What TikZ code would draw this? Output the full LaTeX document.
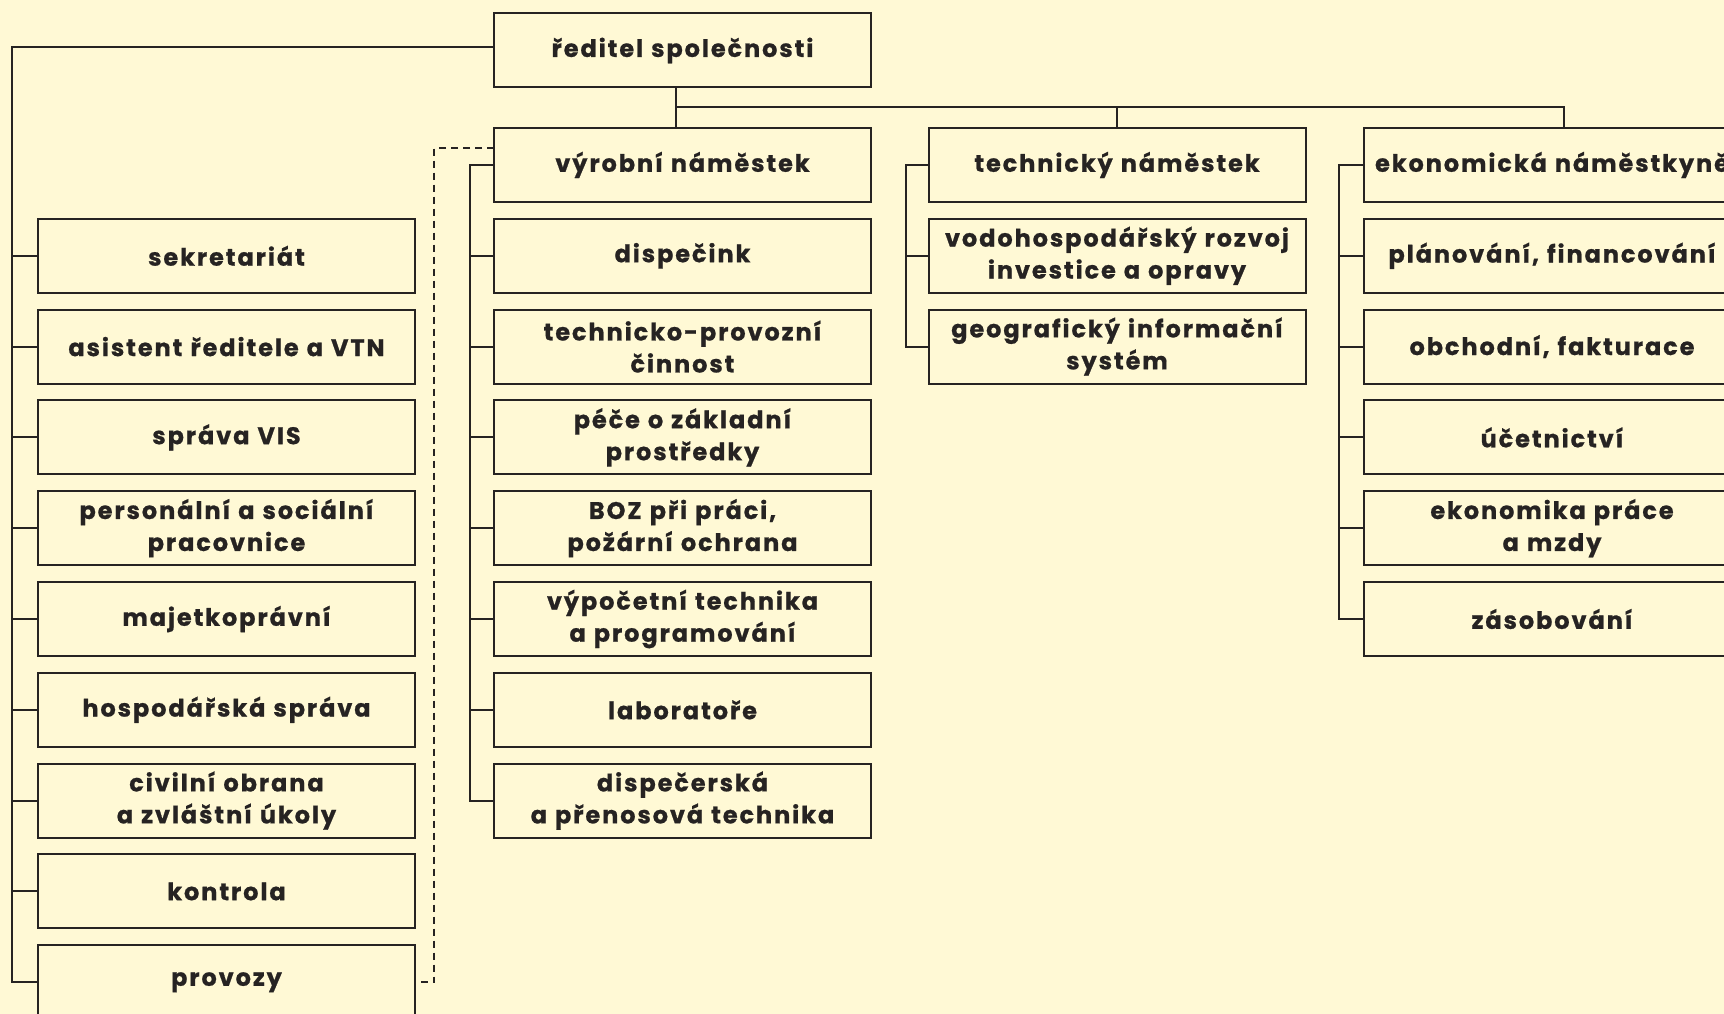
\documentclass[tikz,border=0pt]{standalone}
\usepackage{fontspec}
\setmainfont{Poppins}[LetterSpace=8, BoldFeatures={FakeBold=0.8}]
\usetikzlibrary{positioning}
\definecolor{paper}{HTML}{FFF9D5}
\definecolor{ink}{HTML}{262322}

\begin{document}
\begin{tikzpicture}[
    x=1pt, y=-1pt,
    unit/.style={
      draw=ink,
      fill=paper,
      line width=2pt,
      outer sep=0pt,
      inner sep=0pt,
      minimum width=377pt,
      minimum height=74pt,
      text width=370pt,
      align=center,
      text=ink,
      font=\fontsize{24}{32}\selectfont\bfseries
      },
    link/.style={
      draw=ink,
      line width=2pt
      },
    aide/.style={
      link,
      dash pattern=on 7pt off 5pt
      }
    ]
    \fill[paper] (0,0) rectangle (1724,1014);
    \useasboundingbox (0,0) rectangle (1724,1014);
    % director and deputies
    \node[unit] (boss) at (682.5,50.5) {ředitel společnosti};
    \node[unit] (vyr) at (682.5,165) {výrobní náměstek};
    \node[unit] (tech) at (1117,165) {technický náměstek};
    \node[unit] (eko) at (1552,165) {ekonomická náměstkyně};
    % staff of the director
    \foreach \txt [count=\i] in {sekretariát, asistent ředitele a VTN, správa VIS,
      personální a sociální\\pracovnice, majetkoprávní, hospodářská správa,
      civilní obrana\\a zvláštní úkoly, kontrola, provozy}
      \node[unit] (s\i) at (226.5,{165+90.8*\i}) {\txt};
    % production
    \foreach \txt [count=\i] in {dispečink, technicko-provozní\\činnost,
      péče o základní\\prostředky, {BOZ při práci,\\požární ochrana},
      výpočetní technika\\a programování, laboratoře,
      dispečerská\\a přenosová technika}
      \node[unit] (p\i) at (682.5,{165+90.8*\i}) {\txt};
    % technical
    \foreach \txt [count=\i] in {vodohospodářský rozvoj\\investice a opravy,
      geografický informační\\systém}
      \node[unit] (t\i) at (1117,{165+90.8*\i}) {\txt};
    % economic
    \foreach \txt [count=\i] in {{plánování, financování}, {obchodní, fakturace},
      účetnictví, ekonomika práce\\a mzdy, zásobování}
      \node[unit] (e\i) at (1552,{165+90.8*\i}) {\txt};
    % spines
    \coordinate (lbus) at (12,0);
    \coordinate (mbus) at (469.5,0);
    \coordinate (tbus) at (906,0);
    \coordinate (ebus) at (1339,0);
    \coordinate (hbus) at (0,106.7);
    \coordinate (dbus) at (434.3,148.4);
    \draw[link] ([yshift=3pt]boss.west) -- ([yshift=3pt]boss.west -| lbus) |- (s9.west);
    \foreach \i in {1,...,8}
      \draw[link] (s\i.west) -- (s\i.west -| lbus);
    \draw[link] ([xshift=-7pt]boss.south) -- ([xshift=-7pt]vyr.north);
    \draw[link] ([xshift=-7pt]boss.south |- hbus) -| (tech.north);
    \draw[link] (tech.north |- hbus) -| ([xshift=12pt]eko.north);
    \draw[link] (vyr.west) -- (vyr.west -| mbus) |- (p7.west);
    \foreach \i in {1,...,6}
      \draw[link] (p\i.west) -- (p\i.west -| mbus);
    \draw[link] (tech.west) -- (tech.west -| tbus) |- (t2.west);
    \draw[link] (t1.west) -- (t1.west -| tbus);
    \draw[link] (eko.west) -- (eko.west -| ebus) |- (e5.west);
    \foreach \i in {1,...,4}
      \draw[link] (e\i.west) -- (e\i.west -| ebus);
    \draw[aide] (vyr.west |- dbus) -- (dbus) |- (s9.east);
\end{tikzpicture}
\end{document}
